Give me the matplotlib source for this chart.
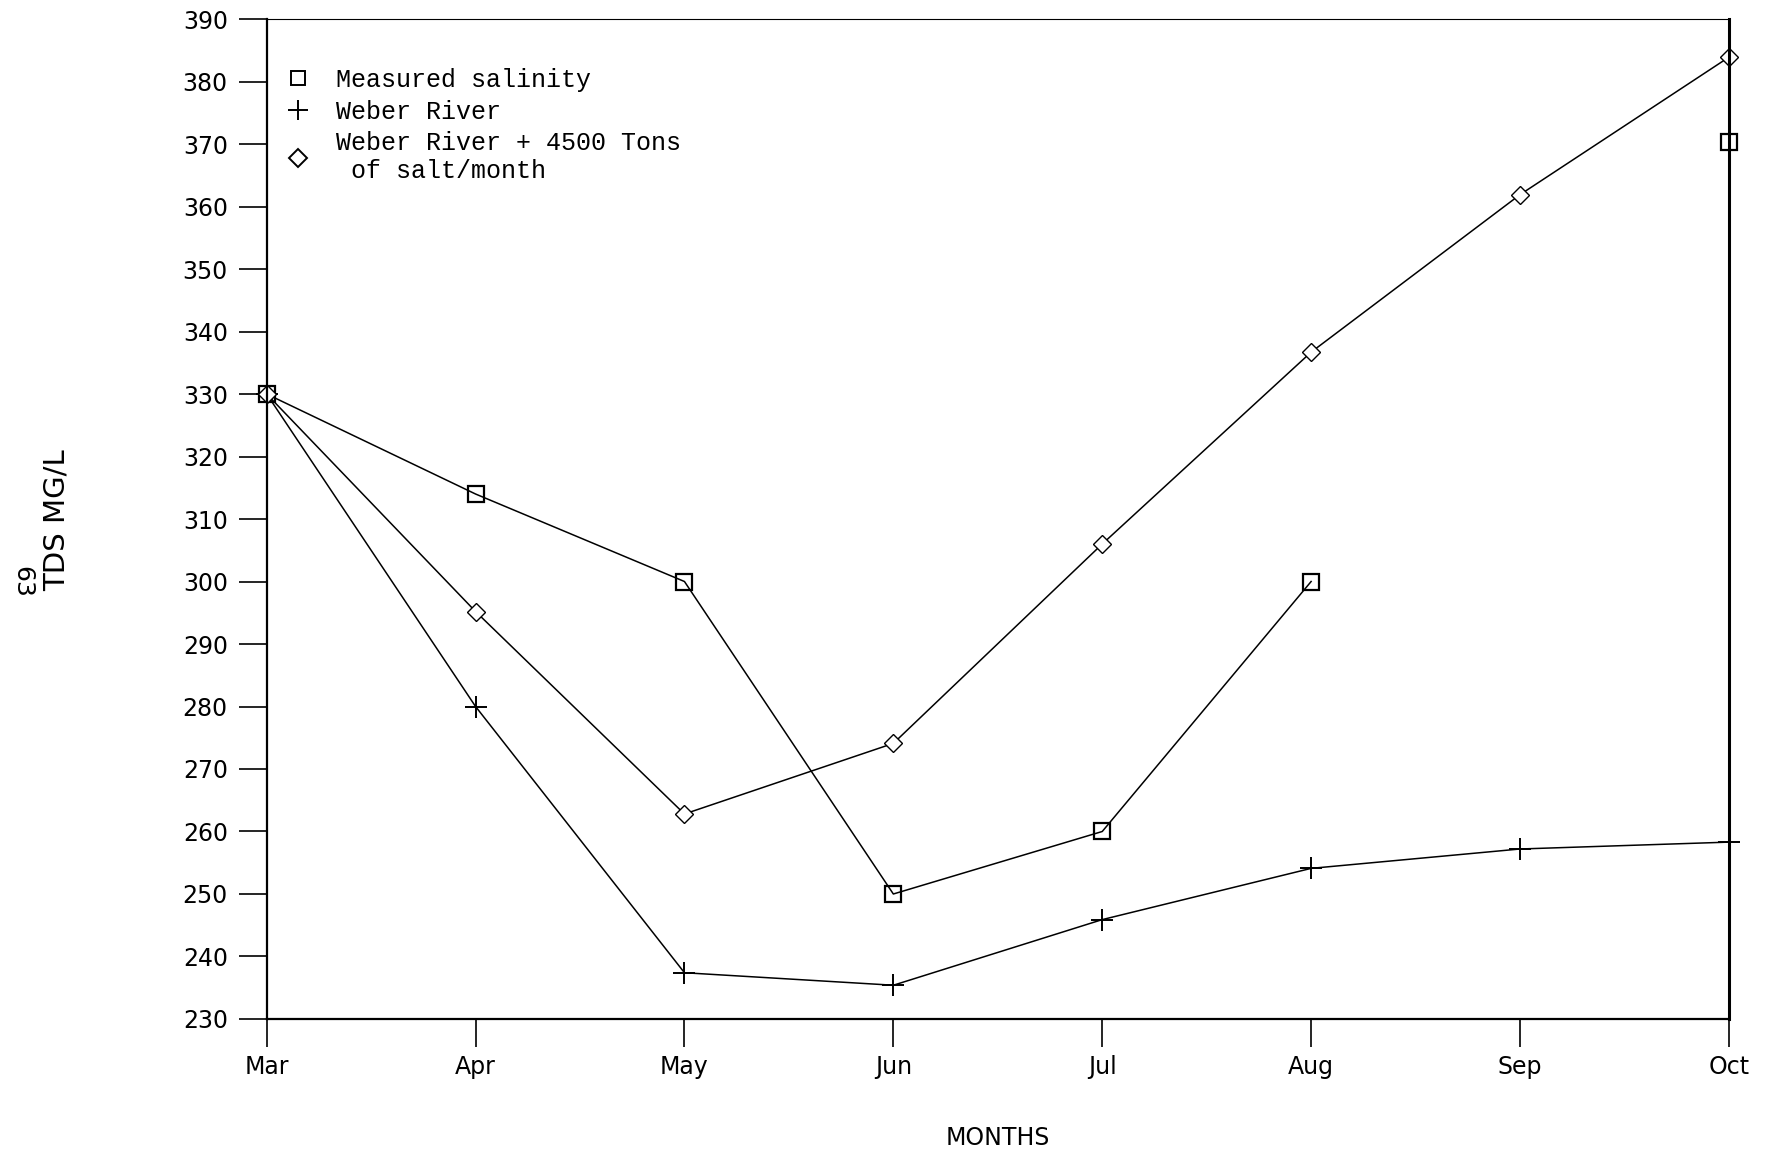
import matplotlib.pyplot as plt
from matplotlib.lines import Line2D
import numpy as np

months = ['Mar', 'Apr', 'May', 'Jun', 'Jul', 'Aug', 'Sep', 'Oct']

# measured salinity (no value for Sep)
measured_x = [0, 1, 2, 3, 4, 5]
measured = [330, 314, 300, 250, 260, 300]
measured_oct = 370.4

weber = [330, 280, 237.4, 235.4, 245.9, 254.1, 257.2, 258.3]
weber_salt = [330, 295.2, 262.8, 274.1, 306, 336.7, 361.9, 383.9]

yticks = list(range(230, 391, 10))

plt.rcParams['font.family'] = ['DejaVu Sans']

fig = plt.figure(figsize=(17.66, 11.54), dpi=100)
ax = fig.add_axes([0.151, 0.117, 0.828, 0.8665])

x = np.arange(len(months))
ax.plot(measured_x, measured, 'k-', lw=1.1, marker='s', ms=12, mfc='none', mew=1.6, clip_on=False)
ax.plot([7], [measured_oct], 'k', ls='none', marker='s', ms=12, mfc='none', mew=1.6, clip_on=False)
ax.plot(x, weber, 'k-', lw=1.1, marker='+', ms=16, mew=1.4, clip_on=False)
ax.plot(x, weber_salt, 'k-', lw=1.1, marker='D', ms=9, mfc='white', mew=1.0, clip_on=False)

ax.set_xlim(0, 7)
ax.set_ylim(230, 390)
ax.set_xticks(x)
ax.set_xticklabels(months, fontsize=17)
ax.set_yticks(yticks)
ax.set_yticklabels([str(v) for v in yticks], fontsize=17)
ax.tick_params(axis='both', direction='out', length=20, width=1.2, pad=8)
ax.tick_params(axis='x', pad=6)

for s in ['left', 'bottom']:
    ax.spines[s].set_linewidth(1.6)
ax.spines['top'].set_linewidth(0.8)
ax.spines['right'].set_linewidth(2.2)

ax.set_xlabel('MONTHS', fontsize=17, labelpad=34)
fig.text(0.032, 0.549, 'TDS MG/L', rotation=90, fontsize=21, ha='center', va='center')
fig.text(0.0125, 0.496, '63', rotation=270, fontsize=18, ha='center', va='center')

handles = [
    Line2D([], [], color='k', ls='none', marker='s', ms=10, mfc='none', mew=1.4),
    Line2D([], [], color='k', ls='none', marker='+', ms=14, mew=1.4),
    Line2D([], [], color='k', ls='none', marker='D', ms=9, mfc='none', mew=1.4),
]
labels = ['Measured salinity', 'Weber River', 'Weber River + 4500 Tons\n of salt/month']
ax.legend(handles, labels, loc='upper left', bbox_to_anchor=(0.0144, 0.951), frameon=False,
          prop={'family': 'Liberation Mono', 'size': 18},
          handlelength=0.8, handletextpad=1.15, borderaxespad=0, borderpad=0, labelspacing=0.3)

fig.savefig('out.png', dpi=100)
